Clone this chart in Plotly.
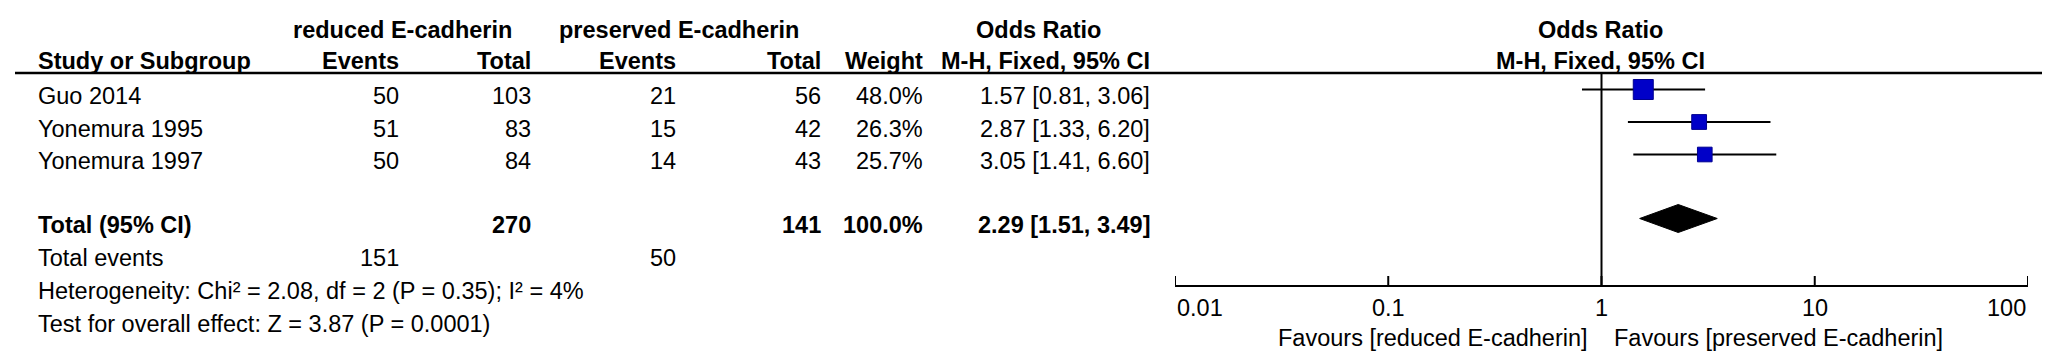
import math
import plotly.graph_objects as go

# ---------------- data ----------------
studies = ["Guo 2014", "Yonemura 1995", "Yonemura 1997"]
events_reduced = [50, 51, 50]
total_reduced = [103, 83, 84]
events_preserved = [21, 15, 14]
total_preserved = [56, 42, 43]
weights = [48.0, 26.3, 25.7]
or_est = [1.57, 2.87, 3.05]
ci_low = [0.81, 1.33, 1.41]
ci_high = [3.06, 6.20, 6.60]

pooled_est = 2.29
pooled_low = 1.51
pooled_high = 3.49
pooled_weight = 100.0
sum_total_reduced = 270
sum_total_preserved = 141
sum_events_reduced = 151
sum_events_preserved = 50

heterogeneity_text = "Heterogeneity: Chi² = 2.08, df = 2 (P = 0.35); I² = 4%"
overall_text = "Test for overall effect: Z = 3.87 (P = 0.0001)"

tick_values = [0.01, 0.1, 1, 10, 100]
tick_labels = ["0.01", "0.1", "1", "10", "100"]

group_left = "reduced E-cadherin"
group_right = "preserved E-cadherin"
favours_left = "Favours [reduced E-cadherin]"
favours_right = "Favours [preserved E-cadherin]"

# ---------------- layout constants (pixels) ----------------
W, H = 2050, 356
AX_LEFT, AX_RIGHT = 1167, 2020       # pixel positions of 0.01 and 100
AX_Y = 277                           # axis line (px from top)
FONT = "Liberation Sans, Arial, sans-serif"
FS = 23.5

row_header1 = 22
row_header2 = 53
line_y = 65
row_study = [88, 120.5, 153]
row_total = 217
row_events = 250
row_het = 283
row_test = 316
marker_shift = -6.5

col_study = 28
col_ev1, col_tot1, col_ev2, col_tot2, col_w, col_ci = 393, 525, 670, 815, 917, 1144
plot_center = 1592


def px(x):
    return x / W


def py(y):
    return 1 - y / H


fig = go.Figure()

# vertical line of no effect
fig.add_trace(go.Scatter(x=[1, 1], y=[line_y, AX_Y], mode="lines",
                         line=dict(color="black", width=2), hoverinfo="skip", showlegend=False))

# confidence intervals
for i in range(len(studies)):
    ym = row_study[i] + marker_shift
    fig.add_trace(go.Scatter(x=[ci_low[i], ci_high[i]], y=[ym, ym], mode="lines",
                             line=dict(color="black", width=2), hoverinfo="skip", showlegend=False))

# squares sized by weight
fig.add_trace(go.Scatter(
    x=or_est, y=[r + marker_shift for r in row_study], mode="markers",
    marker=dict(symbol="square", color="#0000C8", opacity=1,
                size=[20 * math.sqrt(w / max(weights)) for w in weights],
                line=dict(width=1, color="#000090")),
    hoverinfo="skip", showlegend=False))

# pooled diamond
yd = row_total + marker_shift
hd = 14
fig.add_trace(go.Scatter(
    x=[pooled_low, pooled_est, pooled_high, pooled_est, pooled_low],
    y=[yd, yd - hd, yd, yd + hd, yd], mode="lines", fill="toself",
    fillcolor="black", line=dict(color="black", width=1),
    hoverinfo="skip", showlegend=False))

# axis ticks (crossing the axis line)
tx, ty = [], []
for t in tick_values:
    tx += [t, t, None]
    ty += [AX_Y - 9, AX_Y + 9, None]
fig.add_trace(go.Scatter(x=tx, y=ty, mode="lines", line=dict(color="black", width=2),
                         hoverinfo="skip", showlegend=False))

ann = []


def text(x, y, s, anchor="left", bold=False, size=FS):
    ann.append(dict(x=px(x), y=py(y), xref="paper", yref="paper", text=("<b>%s</b>" % s) if bold else s,
                    showarrow=False, xanchor=anchor, yanchor="middle",
                    font=dict(family=FONT, size=size, color="black")))


# headers
text(394.5, row_header1, group_left, "center", True)
text(671, row_header1, group_right, "center", True)
text(1030, row_header1, "Odds Ratio", "center", True)
text(plot_center, row_header1, "Odds Ratio", "center", True)

text(col_study, row_header2, "Study or Subgroup", "left", True)
text(col_ev1, row_header2, "Events", "right", True)
text(col_tot1, row_header2, "Total", "right", True)
text(col_ev2, row_header2, "Events", "right", True)
text(col_tot2, row_header2, "Total", "right", True)
text(col_w, row_header2, "Weight", "right", True)
text(col_ci, row_header2, "M-H, Fixed, 95% CI", "right", True)
text(plot_center, row_header2, "M-H, Fixed, 95% CI", "center", True)

# study rows
for i, s in enumerate(studies):
    y = row_study[i]
    text(col_study, y, s)
    text(col_ev1, y, str(events_reduced[i]), "right")
    text(col_tot1, y, str(total_reduced[i]), "right")
    text(col_ev2, y, str(events_preserved[i]), "right")
    text(col_tot2, y, str(total_preserved[i]), "right")
    text(col_w, y, "%.1f%%" % weights[i], "right")
    text(col_ci, y, "%.2f [%.2f, %.2f]" % (or_est[i], ci_low[i], ci_high[i]), "right")

# total rows
text(col_study, row_total, "Total (95% CI)", "left", True)
text(col_tot1, row_total, str(sum_total_reduced), "right", True)
text(col_tot2, row_total, str(sum_total_preserved), "right", True)
text(col_w, row_total, "%.1f%%" % pooled_weight, "right", True)
text(col_ci, row_total, "%.2f [%.2f, %.2f]" % (pooled_est, pooled_low, pooled_high), "right", True)

text(col_study, row_events, "Total events")
text(col_ev1, row_events, str(sum_events_reduced), "right")
text(col_ev2, row_events, str(sum_events_preserved), "right")
text(col_study, row_het, heterogeneity_text)
text(col_study, row_test, overall_text)

# tick labels via axis scale
for k, (t, lab) in enumerate(zip(tick_values, tick_labels)):
    anchor = "left" if k == 0 else ("right" if k == len(tick_values) - 1 else "center")
    ann.append(dict(x=math.log10(t), y=py(300), xref="x", yref="paper", text=lab,
                    showarrow=False, xanchor=anchor, yanchor="middle",
                    font=dict(family=FONT, size=FS, color="black")))

# favours labels
ann.append(dict(x=math.log10(1), y=py(330), xref="x", yref="paper", text=favours_left,
                showarrow=False, xanchor="right", xshift=-12, yanchor="middle",
                font=dict(family=FONT, size=FS, color="black")))
ann.append(dict(x=math.log10(1), y=py(330), xref="x", yref="paper", text=favours_right,
                showarrow=False, xanchor="left", xshift=10, yanchor="middle",
                font=dict(family=FONT, size=FS, color="black")))

fig.update_layout(
    width=W, height=H, margin=dict(l=0, r=0, t=0, b=0),
    paper_bgcolor="white", plot_bgcolor="white",
    xaxis=dict(type="log", range=[math.log10(tick_values[0]), math.log10(tick_values[-1])],
               domain=[px(AX_LEFT), px(AX_RIGHT)], anchor="y",
               showline=True, linecolor="black", linewidth=2, ticks="",
               showticklabels=False, showgrid=False, zeroline=False),
    yaxis=dict(range=[AX_Y, 0], domain=[py(AX_Y), 1], visible=False, showgrid=False, zeroline=False),
    annotations=ann,
    shapes=[dict(type="line", xref="paper", yref="paper", x0=px(7), x1=px(2041),
                 y0=py(line_y), y1=py(line_y), line=dict(color="black", width=2.5))],
    showlegend=False,
)

fig.write_html("out.html")
